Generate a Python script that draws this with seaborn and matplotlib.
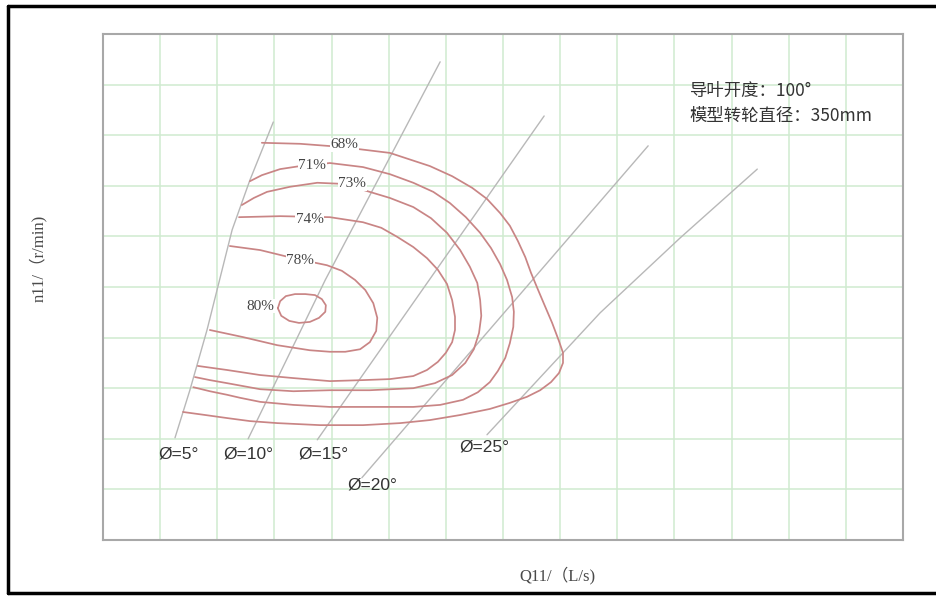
import pandas as pd
import matplotlib.pyplot as plt
from matplotlib.lines import Line2D
import seaborn as sns

# Efficiency contours (grid units: Q11 across 14 cells, n11 across 10 cells)
eff68_x = [2.78, 3.45, 4.15, 5.02, 5.72, 6.11, 6.46, 6.72, 6.95, 7.12, 7.26, 7.39, 7.49, 7.60, 7.72, 7.86, 7.98,
           8.05, 8.05, 7.98, 7.84, 7.65, 7.42, 7.12, 6.77, 6.25, 5.72, 5.20, 4.55, 3.80, 3.05, 2.57, 2.17, 1.79, 1.40]
eff68_y = [7.85, 7.83, 7.77, 7.65, 7.39, 7.19, 6.96, 6.74, 6.46, 6.21, 5.91, 5.59, 5.28, 4.98, 4.66, 4.29, 3.93,
           3.70, 3.50, 3.30, 3.12, 2.96, 2.83, 2.71, 2.59, 2.47, 2.37, 2.31, 2.27, 2.27, 2.31, 2.35, 2.41, 2.47, 2.53]

eff71_x = [2.57, 2.78, 3.10, 3.45, 3.97, 4.55, 5.02, 5.43, 5.78, 6.07, 6.35, 6.60, 6.79, 6.95, 7.07, 7.16, 7.19,
           7.18, 7.12, 7.04, 6.91, 6.77, 6.56, 6.30, 5.90, 5.43, 4.67, 3.97, 3.33, 2.75, 2.40, 2.17, 1.87, 1.58]
eff71_y = [7.09, 7.21, 7.33, 7.39, 7.45, 7.37, 7.23, 7.06, 6.88, 6.66, 6.38, 6.07, 5.77, 5.45, 5.14, 4.80, 4.51,
           4.21, 3.89, 3.60, 3.34, 3.12, 2.92, 2.77, 2.67, 2.63, 2.63, 2.63, 2.67, 2.73, 2.81, 2.87, 2.94, 3.02]

eff73_x = [2.43, 2.64, 2.87, 3.27, 3.75, 4.15, 4.55, 5.02, 5.43, 5.74, 6.02, 6.25, 6.42, 6.55, 6.60, 6.62, 6.58,
           6.49, 6.34, 6.11, 5.81, 5.43, 4.67, 3.97, 3.33, 2.75, 2.17, 1.87, 1.61]
eff73_y = [6.62, 6.76, 6.88, 6.98, 7.06, 7.04, 6.92, 6.76, 6.58, 6.36, 6.07, 5.73, 5.40, 5.08, 4.74, 4.43, 4.09,
           3.77, 3.50, 3.26, 3.10, 3.00, 2.96, 2.96, 2.94, 2.98, 3.10, 3.16, 3.22]

eff74_x = [2.38, 3.10, 3.97, 4.55, 4.87, 5.15, 5.43, 5.67, 5.86, 6.02, 6.11, 6.16, 6.16, 6.11, 6.00, 5.86, 5.67,
           5.43, 5.02, 4.55, 3.97, 3.33, 2.75, 2.17, 1.66]
eff74_y = [6.38, 6.40, 6.38, 6.28, 6.17, 5.99, 5.79, 5.57, 5.34, 5.06, 4.74, 4.41, 4.15, 3.91, 3.70, 3.52, 3.36,
           3.24, 3.18, 3.16, 3.14, 3.20, 3.26, 3.36, 3.44]

eff78_x = [2.22, 2.75, 3.33, 3.92, 4.18, 4.41, 4.59, 4.73, 4.80, 4.78, 4.67, 4.50, 4.24, 3.97, 3.62, 3.05, 2.45, 1.87]
eff78_y = [5.81, 5.73, 5.57, 5.43, 5.32, 5.14, 4.94, 4.68, 4.39, 4.13, 3.91, 3.77, 3.72, 3.72, 3.75, 3.85, 4.01, 4.15]

eff80_x = [3.06, 3.10, 3.20, 3.36, 3.54, 3.71, 3.83, 3.90, 3.89, 3.78, 3.62, 3.43, 3.26, 3.12, 3.06]
eff80_y = [4.58, 4.72, 4.82, 4.86, 4.86, 4.84, 4.76, 4.64, 4.51, 4.39, 4.31, 4.29, 4.33, 4.43, 4.58]

eff_names = ["68%", "71%", "73%", "74%", "78%", "80%"]
eff_label_x = [4.22, 3.66, 4.36, 3.62, 3.45, 2.75]
eff_label_y = [7.81, 7.41, 7.04, 6.34, 5.53, 4.62]

# Guide vane opening lines
phi5_x = [2.98, 2.57, 2.26, 1.82, 1.52, 1.26]
phi5_y = [8.26, 7.11, 6.13, 4.15, 2.96, 2.02]
phi10_x = [5.90, 3.89, 2.54]
phi10_y = [9.45, 5.14, 2.00]
phi15_x = [7.72, 5.71, 3.75]
phi15_y = [8.38, 5.14, 1.98]
phi20_x = [9.54, 4.53]
phi20_y = [7.79, 1.23]
phi25_x = [11.45, 10.10, 8.70, 6.72]
phi25_y = [7.33, 5.97, 4.49, 2.08]

phi_names = ["Ø=5°", "Ø=10°", "Ø=15°", "Ø=20°", "Ø=25°"]
phi_label_x = [1.33, 2.54, 3.85, 4.71, 6.67]
phi_label_y = [1.70, 1.70, 1.70, 1.09, 1.84]

note_lines = ["导叶开度：100°", "模型转轮直径：350mm"]


def to_frame(curves):
    rows = []
    for name, xs, ys in curves:
        for i, (x, y) in enumerate(zip(xs, ys)):
            rows.append({"curve": name, "order": i, "x": x, "y": y})
    return pd.DataFrame(rows)


eff_df = to_frame([
    ("68%", eff68_x, eff68_y), ("71%", eff71_x, eff71_y),
    ("73%", eff73_x, eff73_y), ("74%", eff74_x, eff74_y),
    ("78%", eff78_x, eff78_y), ("80%", eff80_x, eff80_y),
])
phi_df = to_frame([
    ("5", phi5_x, phi5_y), ("10", phi10_x, phi10_y), ("15", phi15_x, phi15_y),
    ("20", phi20_x, phi20_y), ("25", phi25_x, phi25_y),
])

sns.set_style("white")
plt.rcParams['font.family'] = ['Liberation Serif', 'Noto Sans CJK SC', 'DejaVu Sans']

fig = plt.figure(figsize=(9.37, 5.96), dpi=100)
ax = fig.add_axes([103 / 937, 56 / 596, 800 / 937, 506 / 596])

sns.lineplot(data=phi_df, x="x", y="y", units="curve", estimator=None, sort=False,
             color="#b8b8b8", lw=1.0, ax=ax)
sns.lineplot(data=eff_df, x="x", y="y", units="curve", estimator=None, sort=False,
             color="#c98585", lw=1.25, ax=ax)
for line in ax.lines:
    line.set_solid_joinstyle("round")

for name, x, y in zip(eff_names, eff_label_x, eff_label_y):
    ax.text(x, y, name, ha="center", va="center", fontsize=11, color="#444444",
            family="Liberation Serif",
            bbox=dict(facecolor="white", edgecolor="none", pad=0.3))

for name, x, y in zip(phi_names, phi_label_x, phi_label_y):
    ax.text(x, y, name, ha="center", va="center", fontsize=12.5, color="#333333",
            family="Liberation Sans")

ax.text(10.27, 8.87, note_lines[0], ha="left", va="center", fontsize=12.5, color="#333333",
        family=["Noto Sans CJK SC", "DejaVu Sans"])
ax.text(10.27, 8.38, note_lines[1], ha="left", va="center", fontsize=12.5, color="#333333",
        family=["Noto Sans CJK SC", "DejaVu Sans"])

ax.set_xlim(0, 14)
ax.set_ylim(0, 10)
ax.set_xticks(range(15))
ax.set_yticks(range(11))
ax.grid(True, color="#d0ebd0", lw=1.1)
ax.tick_params(length=0, labelbottom=False, labelleft=False)
ax.set_xlabel("")
ax.set_ylabel("")
for s in ax.spines.values():
    s.set_color("#a8a8a8")
    s.set_linewidth(1.5)

fig.text(557 / 937, 1 - 575 / 596, "Q11/（L/s)", ha="center", va="center",
         fontsize=12, color="#4a4a4a")
fig.text(38 / 937, 1 - 258 / 596, "n11/（r/min)", ha="center", va="center",
         rotation=90, fontsize=12, color="#4a4a4a")

# outer black frame
for xs, ys in [([8, 8], [6, 593]), ([8, 937], [6, 6]), ([8, 937], [593, 593])]:
    fig.add_artist(Line2D([v / 937 for v in xs], [1 - v / 596 for v in ys],
                          color="black", lw=2.5, transform=fig.transFigure))

plt.savefig("out.png", dpi=100)
plt.close()
